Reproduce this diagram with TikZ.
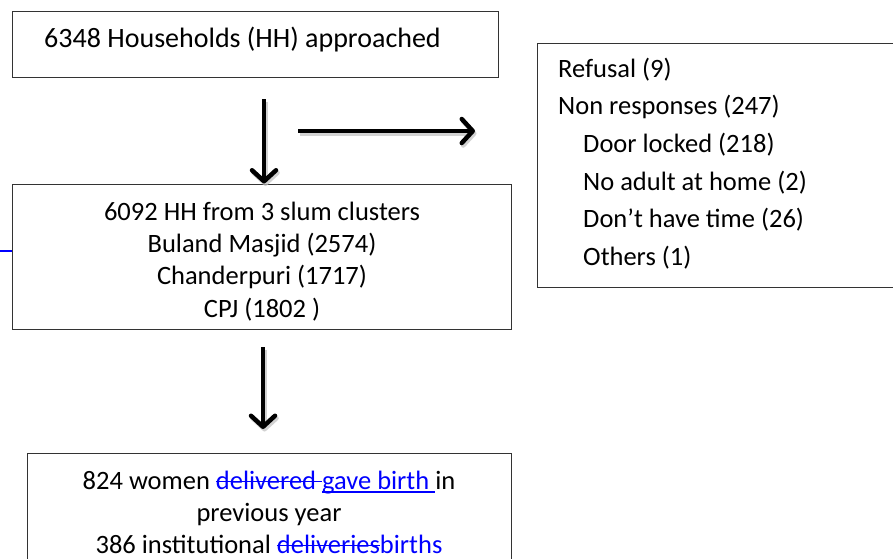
\documentclass[tikz,border=0pt]{standalone}
\usepackage{fontspec}
\setmainfont{Carlito}
\usetikzlibrary{arrows.meta}

\tikzset{
    box/.style={draw=black!80, line width=1pt, inner sep=0pt},
    txt/.style={inner sep=0pt, align=center, anchor=north, font=\fontsize{26.5}{32.3}\selectfont},
    fat/.style={line width=4.5pt, -{Straight Barb[round, length=11pt, width=24pt]}},
    drop/.style={fat, draw=black!25, opacity=0.7, transform canvas={xshift=1.5pt, yshift=-2.5pt}},
}
\newsavebox{\chgbox}
\newcommand{\chgdel}[1]{{\color{blue}\sbox{\chgbox}{#1}\rlap{\rule[0.28em]{\wd\chgbox}{1.2pt}}\usebox{\chgbox}}}
\newcommand{\chgins}[1]{{\color{blue}\sbox{\chgbox}{#1}\rlap{\rule[-0.13em]{\wd\chgbox}{1.2pt}}\usebox{\chgbox}}}

\begin{document}
\begin{tikzpicture}[x=1pt, y=-1pt]
    \useasboundingbox (0,0) rectangle (893,558);

    % boxes
    \node[box, minimum width=486pt, minimum height=66pt]  (hh)    at (255.5, 44) {};
    \node[box, minimum width=499pt, minimum height=145pt] (slums) at (261.5, 256.5) {};
    \node[box, minimum width=363pt, minimum height=244pt] (excl)  at (718.5, 165) {};
    \node[box, minimum width=484pt, minimum height=130pt] (women) at (269, 518) {};

    % texts
    \node[txt, anchor=base, font=\fontsize{28}{34}\selectfont] (hhtext) at (242.5, 47) {6348 Households (HH) approached};
    \node[txt] (slumtext) at (262, 197.4) {\strut 6092 HH from 3 slum clusters\\ Buland Masjid (2574)\\ Chanderpuri (1717)\\ CPJ (1802 )};
    \node[txt, align=left, anchor=north west, font=\fontsize{26.5}{37.6}\selectfont] (excltext) at (558, 50.7)
        {\strut Refusal (9)\\ Non responses (247)\\ \hspace*{25pt}Door locked (218)\\ \hspace*{25pt}No adult at home (2)\\
         \hspace*{25pt}Don’t have time (26)\\ \hspace*{25pt}Others (1)};
    \node[txt] (womentext) at (269, 466.4)
        {\strut 824 women \chgdel{delivered }\chgins{gave birth }in\\ previous year\\ 386 institutional \chgdel{deliveries}\textcolor{blue}{births}};

    % arrows
    \coordinate (a1)    at (264, 99);
    \coordinate (a2)    at (263, 347);
    \coordinate (a2end) at (263, 429);
    \coordinate (side1) at (298, 131);
    \coordinate (side2) at (475, 131);
    \foreach \s in {drop, fat} {
        \draw[\s] (a1) -- (a1 |- slums.north);
        \draw[\s] (side1) -- (side2);
        \draw[\s] (a2) -- (a2end);
    }

    % change bar
    \coordinate (bar) at (0, 251);
    \draw[blue, line width=1.5pt] (bar) -- (bar -| slums.west);
\end{tikzpicture}
\end{document}
